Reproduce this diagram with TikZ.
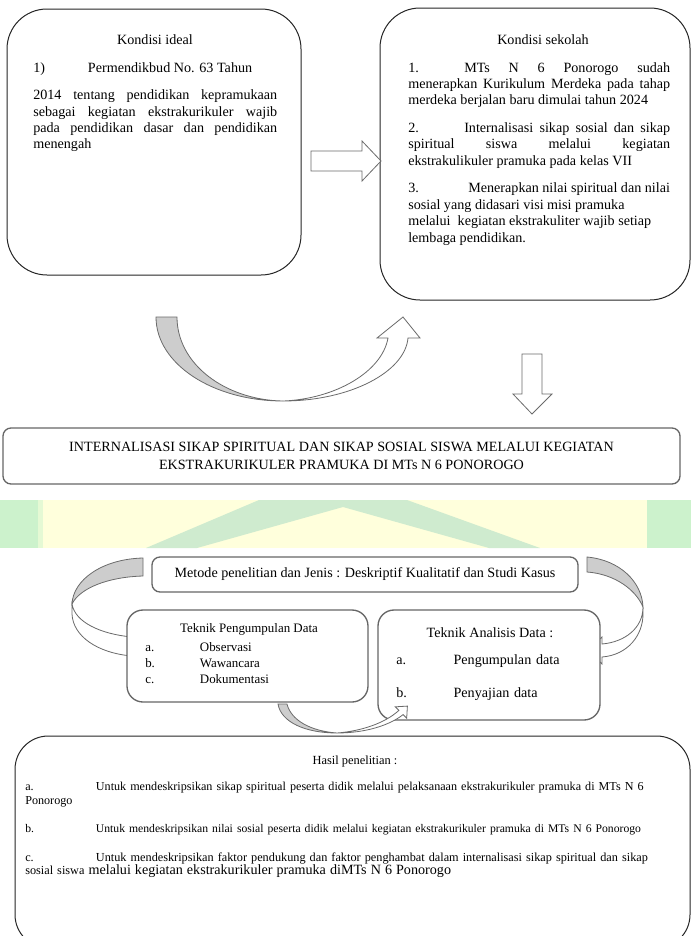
\documentclass[tikz,border=0pt]{standalone}
\usepackage{fontspec}
\setmainfont{Liberation Serif}
\usetikzlibrary{positioning}
\definecolor{bandyellow}{HTML}{FFFFDC}
\definecolor{leafgreen}{HTML}{CFEBCF}
\definecolor{sidegreen}{HTML}{CCF2CC}
\definecolor{ribbongray}{HTML}{CDCDCD}
\definecolor{edgegray}{HTML}{6A6A6A}
\newcommand{\lbl}[2][42pt]{\makebox[#1][l]{#2}}
\newcommand{\fs}[1]{\fontsize{#1}{10}\selectfont}
\tikzset{
  % kotak
  bigbox/.style={draw=black!85,line width=0.75pt,fill=white,rounded corners=30pt,inner sep=0pt},
  midbox/.style={draw=black!60,line width=1pt,fill=white,rounded corners=12pt,inner sep=0pt},
  flatbox/.style={draw=black!60,line width=1pt,fill=white,rounded corners=6pt,inner sep=0pt},
  hd/.style={inner sep=0pt,anchor=base,font=\fontsize{10.6}{12}\selectfont},
  body/.style={inner sep=0pt,anchor=north west,align=justify,font=\fontsize{10.6}{12.3}\selectfont,
    execute at begin node={\setlength{\parskip}{8.4pt}\hyphenpenalty=10000\tolerance=10000}},
  % panah
  blockarr/.style={draw=edgegray,line width=0.6pt,fill=white},
  back/.style={draw=edgegray,line width=0.6pt,fill=ribbongray},
  front/.style={draw=edgegray,line width=0.6pt,fill=white},
}
\begin{document}
\begin{tikzpicture}[x=0.75pt,y=-0.75pt]
\useasboundingbox (0,0) rectangle (691,936);
\clip (0,0) rectangle (691,936);
% pita latar
\fill[bandyellow] (0,500) rectangle (691,548);
\fill[sidegreen] (0,500) rectangle (38,548);
\fill[sidegreen!50!bandyellow] (38,500) rectangle (43,548);
\fill[sidegreen] (647,500) rectangle (691,548);
\fill[leafgreen] (146,548) -- (259,500) -- (407,500) -- (540,548) -- (489,548) -- (343,507) -- (197,548) -- cycle;

% kondisi
\node[bigbox,minimum width=220.5pt,minimum height=199.5pt] (ideal) at (154,142) {};
\node[bigbox,minimum width=232.5pt,minimum height=219pt] (sekolah) at (535,154) {};
\node[hd] (idealhd) at (155,44) {Kondisi ideal};
\node[body,text width=183pt] (idealtx) at (33,62) {\lbl[41pt]{1)}Permendikbud No. 63 Tahun\par
  2014 tentang pendidikan kepramukaan\linebreak sebagai kegiatan ekstrakurikuler wajib\linebreak
  pada pendidikan dasar dan pendidikan\linebreak menengah};
\node[hd] (sekolahhd) at (543,44) {Kondisi sekolah};
\node[body,text width=196.5pt] (sekolahtx) at (408,62) {\lbl{1.}MTs N 6 Ponorogo sudah\linebreak
  menerapkan Kurikulum Merdeka pada tahap\linebreak merdeka berjalan baru dimulai tahun 2024\par
  \lbl{2.}Internalisasi sikap sosial dan sikap\linebreak spiritual siswa melalui kegiatan\linebreak
  ekstrakulikuler pramuka pada kelas VII\par
  \lbl[45pt]{3.}Menerapkan nilai spiritual dan nilai\newline sosial yang didasari visi misi pramuka\newline
  melalui\ \ kegiatan ekstrakuliter wajib setiap\newline lembaga pendidikan.};
\draw[blockarr] (311,151) -- (362,151) -- (362,141) -- (381,161) -- (362,181) -- (362,171) -- (311,171) -- cycle;
\draw[back] (156,317) .. controls (156,364) and (213,401) .. (283,401)
  .. controls (225,400) and (177,364) .. (177,317) -- cycle;
\draw[front] (283,401) .. controls (350,401) and (405,372) .. (408,338) -- (420,338) -- (403,317)
  -- (377,338) -- (388,338) .. controls (382,372) and (335,399) .. (283,401) -- cycle;
\draw[blockarr] (522,354) -- (542,354) -- (542,394) -- (552,394) -- (532,414) -- (513,394) -- (522,394) -- cycle;

% judul
\node[flatbox,minimum width=507.75pt,minimum height=42pt,align=center,
  font=\fontsize{10.6}{13.5}\selectfont] (judul) at (341.5,456)
  {INTERNALISASI SIKAP SPIRITUAL DAN SIKAP SOSIAL SISWA MELALUI KEGIATAN\\
   EKSTRAKURIKULER PRAMUKA DI MTs N 6 PONOROGO};

% metode
\draw[back] (143,558) .. controls (102,559) and (73,580) .. (72,604)
  .. controls (80,588) and (108,577) .. (143,576) -- cycle;
\draw[front] (72,604) .. controls (75,622) and (100,634) .. (132,637) -- (132,656)
  .. controls (97,653) and (73,636) .. (72,614) -- cycle;
\draw[back] (587,557) .. controls (620,560) and (642,582) .. (643,607)
  .. controls (636,590) and (615,574) .. (587,572) -- cycle;
\draw[front] (643,607) .. controls (643,628) and (625,642) .. (602,644) -- (602,637) -- (588,650)
  -- (602,664) -- (602,657) .. controls (628,655) and (643,635) .. (643,614) -- cycle;
\node[flatbox,minimum width=319.5pt,minimum height=26.25pt,font=\fontsize{10.6}{12}\selectfont] (metode) at (365,574.5)
  {Metode penelitian dan Jenis : Deskriptif Kualitatif dan Studi Kasus};
\node[midbox,minimum width=180.75pt,minimum height=69pt] (kumpul) at (247.5,656) {};
\node[midbox,minimum width=166.5pt,minimum height=82.5pt] (analisis) at (489,665) {};
\node[hd,font=\fontsize{9.7}{11}\selectfont] (kumpulhd) at (249,632) {Teknik Pengumpulan Data};
\node[body,align=left,text width=150pt,font=\fontsize{9.7}{12}\selectfont] (kumpultx) at (145,642)
  {\lbl[41pt]{a.}Observasi\\ \lbl[41pt]{b.}Wawancara\\ \lbl[41pt]{c.}Dokumentasi};
\node[hd] (analisishd) at (490,637) {Teknik Analisis Data :};
\node[body,align=left,text width=150pt,execute at begin node={\setlength{\parskip}{13pt}}] (analisistx) at (396,654)
  {\lbl[43pt]{a.}Pengumpulan data\par \lbl[43pt]{b.}Penyajian data};
\draw[back] (278,704) .. controls (281,722) and (305,733) .. (337,733)
  .. controls (310,731) and (291,720) .. (287,704) -- cycle;
\draw[front] (337,733) .. controls (366,733) and (390,725) .. (403.1,714.6) -- (406.7,718.2) -- (407.4,706.1)
  -- (395.3,706.8) -- (398.9,710.4) .. controls (385,723) and (362,731) .. (337,733) -- cycle;

% hasil
\node[bigbox,rounded corners=25pt,minimum width=506.25pt,minimum height=159pt] (hasil) at (352.5,842) {};
\node[hd,font=\fontsize{9.3}{10}\selectfont] (hasilhd) at (355,764) {Hasil penelitian :};
\node[body,align=left,text width=490pt,font=\fs{9.1},
  execute at begin node={\setlength{\parskip}{11.5pt}}] (hasiltx) at (25,782)
  {{\fs{9.1}\lbl[53pt]{a.}Untuk mendeskripsikan sikap spiritual peserta didik melalui pelaksanaan ekstrakurikuler pramuka di MTs N 6\\ Ponorogo\par}
   {\fs{8.75}\lbl[53pt]{b.}Untuk mendeskripsikan nilai sosial peserta didik melalui kegiatan ekstrakurikuler pramuka di MTs N 6 Ponorogo\par}
   {\fs{9.2}\lbl[53pt]{c.}Untuk mendeskripsikan faktor pendukung dan faktor penghambat dalam internalisasi sikap spiritual dan sikap\\
   sosial siswa {\fontsize{10.6}{11.5}\selectfont melalui kegiatan ekstrakurikuler pramuka diMTs N 6 Ponorogo}\par}};
\end{tikzpicture}
\end{document}
